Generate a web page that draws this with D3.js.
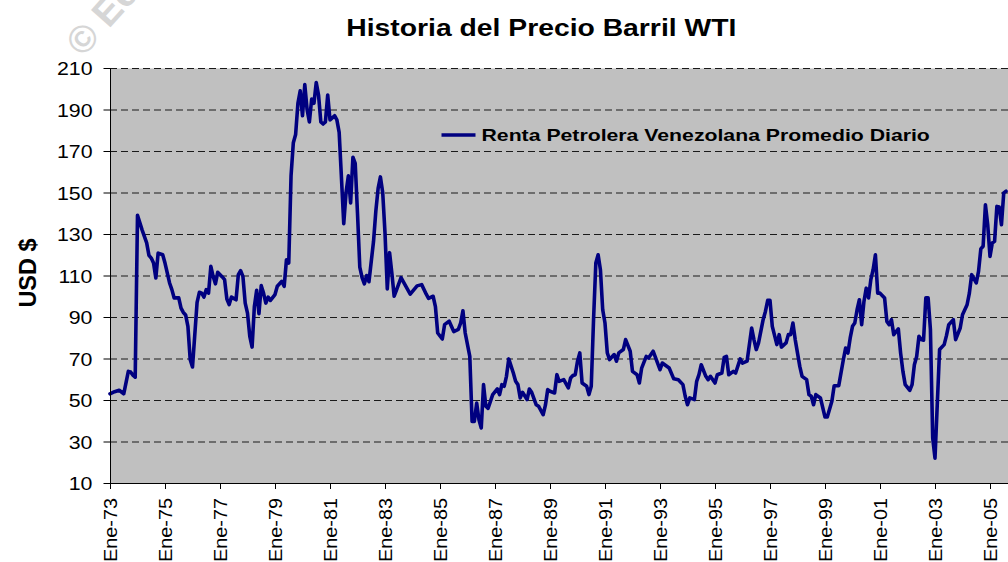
<!DOCTYPE html>
<html><head><meta charset="utf-8">
<script src="https://cdn.jsdelivr.net/npm/d3@7"></script>
<style>
body{margin:0;background:#fff}
svg{display:block}
text{font-family:"Liberation Sans",Arial,sans-serif}
</style>
</head><body>
<svg id="chart" width="1008" height="562"></svg>
<script>
const chartTitle = "Historia del Precio Barril WTI";
const seriesName = "Renta Petrolera Venezolana Promedio Diario";
const yAxisTitle = "USD $";
const watermarkText = "© Econ";

const dates = [
"1973-01","1973-03","1973-05","1973-07","1973-09","1973-10","1973-11","1973-12",
"1974-01","1974-03","1974-05","1974-06","1974-07","1974-08","1974-09","1974-10","1974-12",
"1975-01","1975-03","1975-04","1975-05","1975-07","1975-08","1975-09","1975-10","1975-11","1975-12",
"1976-01","1976-03","1976-04","1976-05","1976-06","1976-07","1976-08","1976-09","1976-10","1976-11","1976-12",
"1977-02","1977-03","1977-04","1977-05","1977-06","1977-08","1977-09","1977-10","1977-11","1977-12",
"1978-01","1978-02","1978-03","1978-04","1978-05","1978-06","1978-07","1978-08","1978-09","1978-10","1978-11",
"1979-01","1979-02","1979-04","1979-05","1979-06","1979-07","1979-08","1979-09","1979-10","1979-11","1979-12",
"1980-01","1980-02","1980-03","1980-04","1980-05","1980-06","1980-07","1980-08","1980-09","1980-10","1980-11","1980-12",
"1981-01","1981-02","1981-03","1981-04","1981-05","1981-07","1981-08","1981-09","1981-10","1981-11","1981-12",
"1982-01","1982-02","1982-03","1982-04","1982-05","1982-06","1982-08","1982-09","1982-10","1982-11","1982-12",
"1983-01","1983-02","1983-03","1983-04","1983-05","1983-06","1983-08","1983-10","1983-12",
"1984-03","1984-05","1984-07","1984-08","1984-10","1984-11","1984-12",
"1985-02","1985-03","1985-05","1985-07","1985-09","1985-10","1985-11","1985-12",
"1986-02","1986-03","1986-04","1986-05","1986-06","1986-07","1986-08","1986-09","1986-10","1986-12",
"1987-02","1987-03","1987-04","1987-05","1987-06","1987-07","1987-09","1987-10","1987-11","1987-12",
"1988-01","1988-03","1988-04","1988-05","1988-07","1988-08","1988-10","1988-11","1988-12",
"1989-01","1989-03","1989-04","1989-05","1989-07","1989-09","1989-10","1989-11","1989-12",
"1990-01","1990-02","1990-03","1990-05","1990-06","1990-07","1990-08","1990-09","1990-10","1990-11","1990-12",
"1991-01","1991-02","1991-03","1991-05","1991-06","1991-07","1991-09","1991-10","1991-12",
"1992-01","1992-03","1992-04","1992-05","1992-07","1992-08","1992-10",
"1993-01","1993-02","1993-05","1993-07","1993-09","1993-11","1993-12",
"1994-01","1994-02","1994-04","1994-05","1994-06","1994-07","1994-09","1994-10","1994-11",
"1995-01","1995-02","1995-04","1995-05","1995-06","1995-07","1995-09","1995-10","1995-12",
"1996-01","1996-03","1996-05","1996-06","1996-07","1996-08","1996-10","1996-11","1996-12",
"1997-01","1997-02","1997-04","1997-05","1997-06","1997-08","1997-09","1997-10","1997-11","1997-12",
"1998-02","1998-03","1998-05","1998-06","1998-07","1998-08","1998-09","1998-11",
"1999-01","1999-02","1999-04","1999-05","1999-07","1999-09","1999-10","1999-11","1999-12",
"2000-01","2000-02","2000-03","2000-04","2000-05","2000-06","2000-07","2000-08","2000-09","2000-10","2000-11","2000-12",
"2001-01","2001-03","2001-04","2001-05","2001-06","2001-07","2001-09","2001-10","2001-11","2001-12",
"2002-02","2002-03","2002-04","2002-05","2002-06","2002-07","2002-08","2002-09","2002-10","2002-11","2002-12",
"2003-01","2003-03","2003-05","2003-06","2003-07","2003-09","2003-10","2003-12",
"2004-01","2004-03","2004-04","2004-05","2004-07","2004-08","2004-09","2004-10","2004-11","2004-12",
"2005-01","2005-02","2005-03","2005-04","2005-05","2005-06","2005-07","2005-08"
];

const values = [
53,54,54.7,53,63.8,63.5,62,61,
139,132,125.7,119.7,118.4,116,108.8,120.8,120,
116,106.4,103.2,99.2,99.2,94.3,92.2,91,85.5,69.4,
65.9,97,101.9,101.5,99.6,103.2,101.5,114.4,109.6,106,111.5,
109.3,108,98.7,96,99.6,98.3,110.4,112.3,109.6,96.7,
91.9,80.7,75.5,95.1,102.9,91.6,105.1,101.5,96.7,99.6,98,
100.8,104.8,107.2,104.8,117.6,116,158,174,178,193,199,
187,202,190,184,195,193,203,197,184,183,184,197,
185,186,187,185,179,135,150,158,145,167,164,
140,114,109,106,110,107,126.5,141,152,157.5,150,
130.5,103.5,121,111,100,103,109,105,101,
105,105.6,101,99,100,95,82.3,
79.4,86.3,88,83,84,87,93,82.3,
71,39.7,39.7,48.5,40.5,36.5,57.4,47,46,52.6,
55.3,52.6,57.4,56.6,61.4,69.8,63,59,57.4,51,
53.7,50.2,55.3,53.7,47.7,47,42.9,47.5,55,
54.2,53.4,62.2,59,59.8,55.8,60.6,61.8,62.2,
68.7,72.7,58.2,56.6,52.6,56.6,88.7,116,120,112.8,93.5,
87.1,72.7,69.5,71.9,68.7,72.7,74.3,79.1,73.5,
63.8,62.2,58.2,65.4,71,70.2,73.5,
64.6,67.8,65.4,60.2,59.8,57.4,51.8,
47.7,51,50.2,59,62.2,67,61.4,59.8,61.4,
58.2,62.2,63,70.5,71,62.2,63.8,63,69.8,
67.8,68.7,84.7,79.1,74.3,77.5,88.7,92.7,98,
98,85.5,76.7,81.5,75.5,77.5,81.5,81.5,87.1,79.1,
66.2,61.4,59.8,52.6,51.8,47.7,52.6,51,
41.8,41.8,49.4,56.9,56.9,69.4,75,72.6,79.9,
85.5,87.1,93.5,98.3,86.3,97.5,103.9,99.2,108,112.8,120,101.5,
101.5,99.2,87.9,86.3,88.7,81.5,84.3,72.6,63.8,57.4,
54.7,57.4,67,71,80.7,79.1,78.8,99.2,99.2,84,31.7,
22,74.3,76.7,81,86.3,88.7,79.1,84.7,
91.1,95.9,101.5,110.4,106.4,112,122.8,124.1,144.1,134.5,
119.2,125.7,126.5,143.3,143,134.5,149.8,150.6
];

const yTicks = [10,30,50,70,90,110,130,150,170,190,210];
const xTickLabels = ["Ene-73","Ene-75","Ene-77","Ene-79","Ene-81","Ene-83","Ene-85","Ene-87",
  "Ene-89","Ene-91","Ene-93","Ene-95","Ene-97","Ene-99","Ene-01","Ene-03","Ene-05"];

// ---- layout ----
const W = 1008, H = 562;
const plotL = 110, plotR = 1008, plotT = 68, plotB = 483;
const pxPerMonth = 880 / 384;
const monthIndex = s => { const [yr, mo] = s.split("-").map(Number); return (yr - 1973) * 12 + (mo - 1); };
const labelMonth = l => { const yy = +l.slice(4); return ((yy < 50 ? 2000 + yy : 1900 + yy) - 1973) * 12; };

const data = dates.map((d, i) => ({ m: monthIndex(d), v: values[i] }));

const x = d3.scaleLinear().domain([0, (plotR - plotL) / pxPerMonth]).range([plotL, plotR]);
const y = d3.scaleLinear().domain([10, 210]).range([plotB, plotT]);

const svg = d3.select("#chart");
svg.append("rect").attr("width", W).attr("height", H).attr("fill", "#fff");

// watermark
svg.append("text")
  .attr("transform", "translate(83,58) rotate(-48)")
  .attr("font-size", 38).attr("font-weight", "bold")
  .attr("fill", "#d6d6d6")
  .text(watermarkText);

// plot background
svg.append("rect")
  .attr("x", plotL + 0.5).attr("y", plotT + 0.5)
  .attr("width", plotR - plotL).attr("height", plotB - plotT)
  .attr("fill", "#c0c0c0");

// gridlines
const grid = svg.append("g").attr("transform", `translate(${plotL},0)`)
  .call(d3.axisLeft(y).tickValues(yTicks.filter(v => v > 10)).tickSize(-(plotR - plotL)).tickFormat(""));
grid.select(".domain").remove();
grid.selectAll("line").attr("stroke", "#1a1a1a").attr("stroke-width", 1).attr("stroke-dasharray", "7,4");

// line
svg.append("path")
  .datum(data)
  .attr("fill", "none")
  .attr("stroke", "#000080")
  .attr("stroke-width", 3.6)
  .attr("stroke-linejoin", "round")
  .attr("stroke-linecap", "round")
  .attr("d", d3.line().x(d => x(d.m)).y(d => y(d.v)));

// y axis
const yAxis = svg.append("g").attr("transform", `translate(${plotL},0)`)
  .call(d3.axisLeft(y).tickValues(yTicks).tickSizeInner(6.5).tickSizeOuter(0).tickFormat(d3.format("d")));
yAxis.select(".domain").attr("stroke", "#000");
yAxis.selectAll("line").attr("stroke", "#000");
yAxis.selectAll("text")
  .attr("x", null).attr("dy", null)
  .attr("transform", "translate(-17.5,6.6) scale(1.22,1)")
  .attr("text-anchor", "end")
  .attr("font-size", 17.5)
  .attr("font-family", "'Liberation Sans',Arial,sans-serif")
  .attr("fill", "#000");

// x axis
const xAxis = svg.append("g").attr("transform", `translate(0,${plotB})`)
  .call(d3.axisBottom(x).tickValues(xTickLabels.map(labelMonth))
    .tickFormat((d, i) => xTickLabels[i]).tickSizeInner(6).tickSizeOuter(0));
xAxis.select(".domain").attr("stroke", "#000");
xAxis.selectAll("line").attr("stroke", "#000");
xAxis.selectAll("text")
  .attr("y", null).attr("dy", null)
  .attr("transform", "translate(6.8,79) rotate(-90)")
  .attr("text-anchor", "start")
  .attr("font-size", 19)
  .attr("textLength", 64)
  .attr("lengthAdjust", "spacingAndGlyphs")
  .attr("font-family", "'Liberation Sans',Arial,sans-serif")
  .attr("fill", "#000");

// y axis title
svg.append("text")
  .attr("transform", "translate(35.5,273) rotate(-90)")
  .attr("text-anchor", "middle")
  .attr("font-size", 23.5).attr("font-weight", "bold")
  .attr("fill", "#000")
  .text(yAxisTitle);

// title
svg.append("text")
  .attr("transform", "translate(541.3,35.5) scale(1.18,1)")
  .attr("text-anchor", "middle")
  .attr("font-size", 24).attr("font-weight", "bold")
  .attr("fill", "#000")
  .text(chartTitle);

// legend
const leg = svg.append("g");
leg.append("line")
  .attr("x1", 441.5).attr("x2", 475.5).attr("y1", 135).attr("y2", 135)
  .attr("stroke", "#000080").attr("stroke-width", 3.6);
leg.append("text")
  .attr("transform", "translate(481.5,140.7) scale(1.228,1)")
  .attr("font-size", 17.3).attr("font-weight", "bold")
  .attr("fill", "#000")
  .text(seriesName);
</script>
</body></html>
